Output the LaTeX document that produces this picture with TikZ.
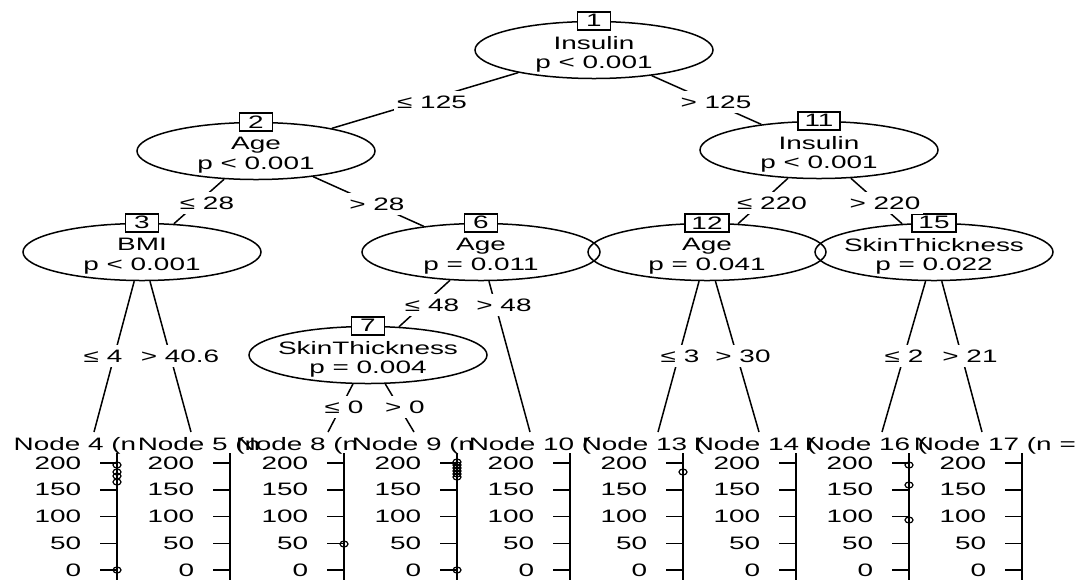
\documentclass[tikz,border=0pt]{standalone}
\usepackage{fontspec}
\setmainfont{Liberation Sans}[FakeStretch=1.55]
\usepackage{tikz}
\usetikzlibrary{shapes.geometric}

\begin{document}
\begin{tikzpicture}[x=0.5pt, y=-0.5pt, line width=0.75pt,
    every node/.style={font=\fontsize{9pt}{9.8pt}\selectfont, inner sep=0pt},
    split/.style={draw, ellipse, minimum width=119pt, minimum height=28.5pt},
    vtext/.style={align=center, yshift=-2.2pt},
    idbox/.style={draw, fill=white, minimum width=16.5pt, minimum height=9pt, inner xsep=3.2pt},
    elabel/.style={fill=white, inner xsep=1.5pt, inner ysep=2.5pt},
    dot/.style={line width=0.6pt}]
  \useasboundingbox (0,0) rectangle (1077,580);

  % inner nodes
  \node[split] (n1) at (594,50) {};
  \node[split] (n2) at (256,151) {};
  \node[split] (n11) at (819,150) {};
  \node[split] (n3) at (142,252) {};
  \node[split] (n6) at (481,252) {};
  \node[split] (n12) at (707,252) {};
  \node[split] (n15) at (934,252) {};
  \node[split] (n7) at (368,355) {};
  \node[vtext] (v1) at (n1) {Insulin\\p < 0.001};
  \node[vtext] (v2) at (n2) {Age\\p < 0.001};
  \node[vtext] (v11) at (n11) {Insulin\\p < 0.001};
  \node[vtext] (v3) at (n3) {BMI\\p < 0.001};
  \node[vtext] (v6) at (n6) {Age\\p = 0.011};
  \node[vtext] (v12) at (n12) {Age\\p = 0.041};
  \node[vtext] (v15) at (n15) {SkinThickness\\p = 0.022};
  \node[vtext] (v7) at (n7) {SkinThickness\\p = 0.004};

  % tops of the terminal panels
  \coordinate (t4) at (94,432);
  \coordinate (t5) at (191,432);
  \coordinate (t8) at (328,432);
  \coordinate (t9) at (414,432);
  \coordinate (t10) at (530,432);
  \coordinate (t13) at (658,432);
  \coordinate (t14) at (759,432);
  \coordinate (t16) at (882,432);
  \coordinate (t17) at (982,432);

  % edges
  \draw (n1) -- (n2);
  \draw (n1) -- (n11);
  \draw (n2) -- (n3);
  \draw (n2) -- (n6);
  \draw (n11) -- (n12);
  \draw (n11) -- (n15);
  \draw (n6) -- (n7);
  \draw (n3) -- (t4);
  \draw (n3) -- (t5);
  \draw (n7) -- (t8);
  \draw (n7) -- (t9);
  \draw (n6) -- (t10);
  \draw (n12) -- (t13);
  \draw (n12) -- (t14);
  \draw (n15) -- (t16);
  \draw (n15) -- (t17);

  % node numbers
  \node[idbox] (b1) at (n1.north) {1};
  \node[idbox] (b2) at (n2.north) {2};
  \node[idbox] (b11) at (n11.north) {11};
  \node[idbox] (b3) at (n3.north) {3};
  \node[idbox] (b6) at (n6.north) {6};
  \node[idbox] (b12) at (n12.north) {12};
  \node[idbox] (b15) at (n15.north) {15};
  \node[idbox] (b7) at (n7.north) {7};

  % split labels
  \node[elabel] (l2) at (432,102) {≤ 125};
  \node[elabel] (l11) at (716,102) {> 125};
  \node[elabel] (l3) at (207,203) {≤ 28};
  \node[elabel] (l6) at (377,204) {> 28};
  \node[elabel] (l12) at (772,203) {≤ 220};
  \node[elabel] (l15) at (885,203) {> 220};
  \node[elabel] (l7) at (432,305) {≤ 48};
  \node[elabel] (l10) at (504,305) {> 48};
  \node[elabel] (l4) at (103,356) {≤ 4};
  \node[elabel] (l5) at (180,356) {> 40.6};
  \node[elabel] (l13) at (680,356) {≤ 3};
  \node[elabel] (l14) at (743,356) {> 30};
  \node[elabel] (l16) at (904,356) {≤ 2};
  \node[elabel] (l17) at (970,356) {> 21};
  \node[elabel] (l8) at (344,407) {≤ 0};
  \node[elabel] (l9) at (405,407) {> 0};

  % terminal panels
  \node[anchor=west] (h4) at (13,446) {Node 4 (n};
  \node[anchor=west] (h5) at (137,446) {Node 5 (n};
  \node[anchor=west] (h8) at (235,446) {Node 8 (n};
  \node[anchor=west] (h9) at (351,446) {Node 9 (n};
  \node[anchor=west] (h10) at (468,446) {Node 10 (};
  \node[anchor=west] (h13) at (581,446) {Node 13 (};
  \node[anchor=west] (h14) at (693,446) {Node 14 (};
  \node[anchor=west] (h16) at (804,446) {Node 16 (};
  \node[anchor=west] (h17) at (913,446) {Node 17 (n =};
  \foreach \ax in {117,230,344,457,570,683,796,909,1022} {
    \draw[line width=1pt] (\ax,453) -- (\ax,580);
    \foreach \v in {0,50,...,200} {
      \draw ({\ax-17},{570-0.535*\v}) -- (\ax,{570-0.535*\v});
      \node[anchor=east] at ({\ax-35},{570-0.535*\v}) {\v};
    }
  }

  % outlying points
  \foreach \yy in {465,472,476,482,570}
    \draw[dot] (117,\yy) ellipse [x radius=2pt, y radius=1.5pt];
  \draw[dot] (344,544) ellipse [x radius=2pt, y radius=1.5pt];
  \foreach \yy in {462,465,...,477,570}
    \draw[dot] (457,\yy) ellipse [x radius=2pt, y radius=1.5pt];
  \draw[dot] (683,472) ellipse [x radius=2pt, y radius=1.5pt];
  \foreach \yy in {465,485,520}
    \draw[dot] (909,\yy) ellipse [x radius=2pt, y radius=1.5pt];
\end{tikzpicture}
\end{document}
